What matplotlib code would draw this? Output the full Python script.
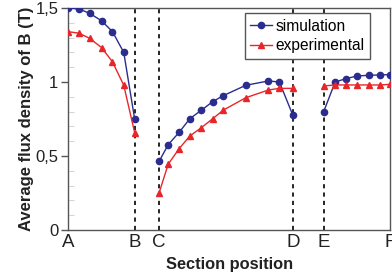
import numpy as np
import matplotlib
matplotlib.use("Agg")
from matplotlib import pyplot as plt
from matplotlib.ticker import MultipleLocator, FuncFormatter

plt.rcParams["font.family"] = ["Liberation Sans", "DejaVu Sans"]

# section positions (A=0, F=100)
sectionNames = ["A", "B", "C", "D", "E", "F"]
sectionPos = [0, 20.7, 28.3, 69.8, 79.3, 100]

# measured along three segments: A-B, C-D, E-F
xAB = [0, 3.4, 6.7, 10.4, 13.8, 17.3, 20.7]
xCD = [28.3, 31.1, 34.5, 37.8, 41.3, 44.9, 48.2, 55.2, 62.2, 65.6, 69.8]
xEF = [79.3, 82.9, 86.3, 89.8, 93.3, 96.7, 100]

simAB = [1.50, 1.494, 1.464, 1.414, 1.34, 1.20, 0.747]
simCD = [0.465, 0.577, 0.66, 0.752, 0.808, 0.867, 0.908, 0.978, 1.007, 1.0, 0.774]
simEF = [0.797, 1.0, 1.023, 1.041, 1.045, 1.048, 1.05]

expAB = [1.34, 1.33, 1.295, 1.233, 1.136, 0.978, 0.656]
expCD = [0.253, 0.445, 0.55, 0.635, 0.69, 0.752, 0.81, 0.894, 0.946, 0.957, 0.957]
expEF = [0.973, 0.98, 0.98, 0.98, 0.98, 0.98, 0.984]

blue = "#2a2d8e"
red = "#e8262a"
gray = "#555555"
txt = "#222222"

def joinSegs(*segs):
    out = []
    for s in segs:
        out += list(s) + [np.nan]
    return np.array(out[:-1])

xAll = joinSegs(xAB, xCD, xEF)
simAll = joinSegs(simAB, simCD, simEF)
expAll = joinSegs(expAB, expCD, expEF)

fig = plt.figure(figsize=(3.92, 2.74), dpi=100)
ax = fig.add_axes([0.1735, 0.1606, 0.822, 0.8102])

for p in sectionPos[1:5]:
    ax.axvline(p, color="black", linestyle=(0, (2.5, 2.5)), linewidth=1.2, zorder=1)

ax.plot(xAll, simAll, color=blue, marker="o", markersize=4.5, linewidth=1, label="simulation", zorder=3)
ax.plot(xAll, expAll, color=red, marker="^", markersize=5, linewidth=1, label="experimental", zorder=3)

ax.set_xlim(0, 100)
ax.set_ylim(0, 1.5)
ax.set_xticks(sectionPos)
ax.set_xticklabels(sectionNames)
ax.yaxis.set_major_locator(MultipleLocator(0.5))
ax.yaxis.set_minor_locator(MultipleLocator(0.1))
ax.yaxis.set_major_formatter(FuncFormatter(lambda v, p: ("%g" % v).replace(".", ",")))
ax.tick_params(axis="y", which="major", direction="out", length=5, width=1, color=gray, labelsize=12, pad=2, labelcolor=txt)
ax.tick_params(axis="y", which="minor", direction="in", length=4, width=0.6, color="#cccccc")
ax.tick_params(axis="x", length=0, labelsize=13.5, pad=3, labelcolor=txt)
for s in ax.spines.values():
    s.set_color(gray)
    s.set_linewidth(1)

ax.set_xlabel("Section position", fontsize=11.8, fontweight="bold", labelpad=4, color=txt)
ax.set_ylabel("Average flux density of B (T)", fontsize=12, fontweight="bold", labelpad=1, color=txt)

leg = ax.legend(loc="upper right", bbox_to_anchor=(0.938, 0.976), fontsize=11.2, handlelength=1.4, handletextpad=0.25,
                borderpad=0.35, labelspacing=0.3, fancybox=False, framealpha=1, borderaxespad=0)
leg.get_frame().set_edgecolor(gray)
leg.get_frame().set_linewidth(1)

fig.savefig("out.png", dpi=100)
